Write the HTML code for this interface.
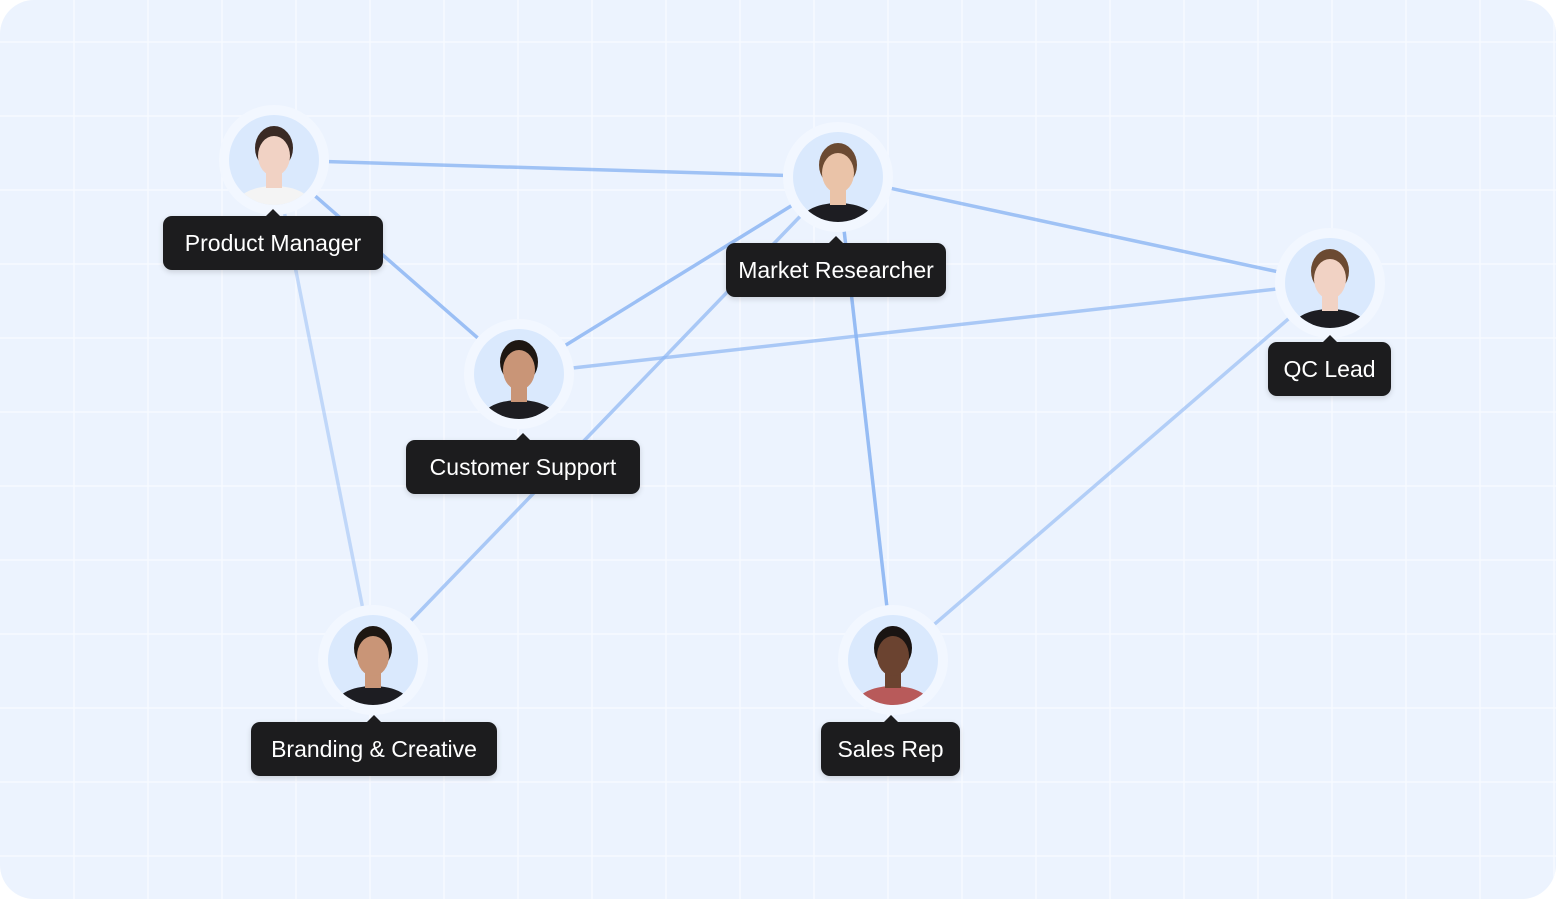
<!DOCTYPE html>
<html><head><meta charset="utf-8"><style>
html,body{margin:0;padding:0;background:#fff}
#wrap{position:relative;width:1556px;height:899px;border-radius:34px;overflow:hidden;background:#ecf3fe;font-family:"Liberation Sans",sans-serif}
.label{position:absolute;height:54px;background:#1c1c1e;color:#fff;border-radius:9px;font-size:23px;line-height:54px;text-align:center;box-shadow:0 2px 6px rgba(0,0,0,.15)}
.label:before{content:"";position:absolute;left:50%;top:-7px;margin-left:-7px;border-left:7px solid transparent;border-right:7px solid transparent;border-bottom:7px solid #1c1c1e}
</style></head><body>
<div id="wrap">
<svg id="svg" width="1556" height="899" style="position:absolute;left:0;top:0"></svg>
</div>
<script>
const names=["Product Manager","Market Researcher","Customer Support","QC Lead","Branding & Creative","Sales Rep"];
const nodeX=[274,838,519,1330,373,893];
const nodeY=[160,177,374,283,660,660];
const labelL=[163,726,406,1268,251,821];
const labelT=[216,243,440,342,722,722];
const labelW=[220,220,234,123,246,139];
const edgeFrom=[0,0,0,1,1,1,2,3,4];
const edgeTo=[1,2,4,2,3,5,3,5,1];
const edgeOp=[0.8,0.85,0.45,0.85,0.8,0.9,0.7,0.6,0.7];
const skin=["#f1d2c4","#eac3a8","#c99577","#f1d2c4","#c99577","#6b4330"];
const hair=["#3a2a24","#6b4a32","#1e1712","#6b4a32","#1e1712","#1a1412"];
const shirt=["#f4f4f4","#1d1d22","#1d1d22","#1d1d22","#1d1d22","#b85a5a"];
const NS="http://www.w3.org/2000/svg";
const svg=document.getElementById('svg');const wrap=document.getElementById('wrap');
function mk(t,a,p){const e=document.createElementNS(NS,t);for(const k in a)e.setAttribute(k,a[k]);(p||svg).appendChild(e);return e;}
const grid=mk('g',{});


for(let x=74;x<1556;x+=74)mk('line',{x1:x,y1:0,x2:x,y2:899,stroke:'#f7faff','stroke-width':1.5},grid);
for(let y=42;y<899;y+=74)mk('line',{x1:0,y1:y,x2:1556,y2:y,stroke:'#f7faff','stroke-width':1.5},grid);
for(let i=0;i<edgeFrom.length;i++){const a=edgeFrom[i],b=edgeTo[i];
const dx=nodeX[b]-nodeX[a],dy=nodeY[b]-nodeY[a],L=Math.hypot(dx,dy),ux=dx/L,uy=dy/L,r=55;
const l=mk('line',{x1:nodeX[a]+ux*r,y1:nodeY[a]+uy*r,x2:nodeX[b]-ux*r,y2:nodeY[b]-uy*r,stroke:'#8db7f4','stroke-width':3.5,opacity:edgeOp[i]});

}
for(let i=0;i<names.length;i++){const cx=nodeX[i],cy=nodeY[i];
const g=mk('g',{});


mk('circle',{cx,cy,r:55,fill:'#f2f7ff'},g);
const clip=mk('clipPath',{id:'c'+i},g);
mk('circle',{cx,cy,r:45},clip);
mk('circle',{cx,cy,r:45,fill:'#dae9fd'},g);
const inner=mk('g',{'clip-path':'url(#c'+i+')'},g);
mk('ellipse',{cx,cy:cy+48,rx:40,ry:22,fill:shirt[i]},inner);
mk('rect',{x:cx-8,y:cy+8,width:16,height:20,fill:skin[i]},inner);
mk('ellipse',{cx,cy:cy-12,rx:19,ry:22,fill:hair[i]},inner);
mk('ellipse',{cx,cy:cy-4,rx:16,ry:20,fill:skin[i]},inner);
const d=document.createElement('div');d.className='label';


d.textContent=names[i];d.style.width=labelW[i]+'px';d.style.left=labelL[i]+'px';d.style.top=labelT[i]+'px';
wrap.appendChild(d);}
</script>
</body></html>
